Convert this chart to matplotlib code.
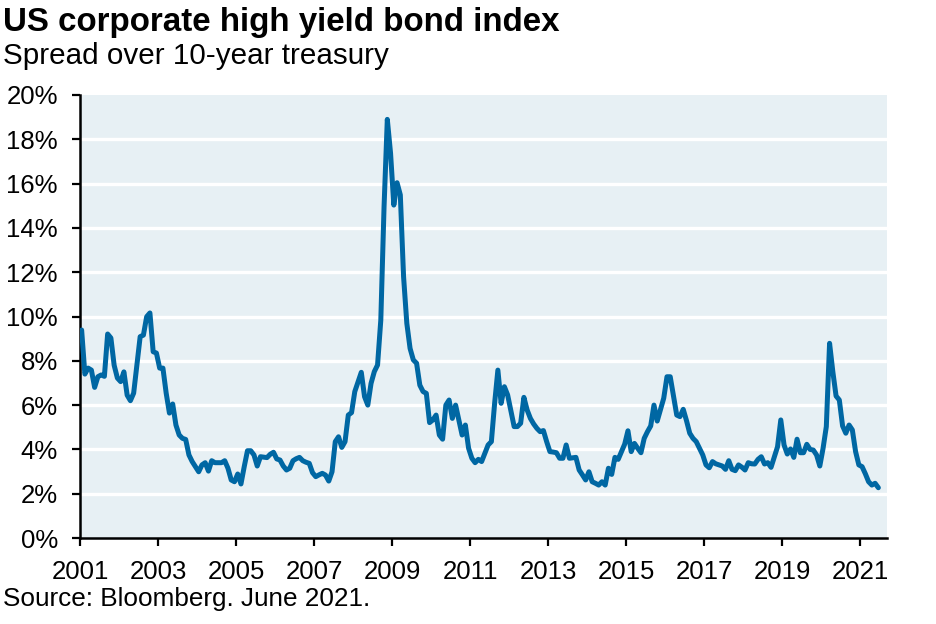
import numpy as np
import pandas as pd
import matplotlib
matplotlib.use("Agg")
import matplotlib.pyplot as plt

# Monthly spread values (%), Jan 2001 - Jun 2021
spread_by_year = {
    2001: [9.39, 7.4, 7.67, 7.58, 6.8, 7.28, 7.36, 7.3, 9.21, 9.03, 7.8, 7.22],
    2002: [7.06, 7.5, 6.45, 6.2, 6.54, 7.8, 9.09, 9.16, 9.99, 10.16, 8.41, 8.35],
    2003: [7.67, 7.67, 6.54, 5.64, 6.05, 5.1, 4.65, 4.5, 4.45, 3.75, 3.45, 3.22],
    2004: [2.99, 3.3, 3.4, 3.02, 3.49, 3.4, 3.4, 3.4, 3.49, 3.15, 2.62, 2.54],
    2005: [2.89, 2.44, 3.22, 3.94, 3.94, 3.75, 3.25, 3.67, 3.65, 3.63, 3.78, 3.87],
    2006: [3.57, 3.52, 3.25, 3.07, 3.15, 3.49, 3.58, 3.64, 3.49, 3.42, 3.37, 2.95],
    2007: [2.77, 2.85, 2.92, 2.84, 2.57, 2.99, 4.35, 4.57, 4.09, 4.35, 5.55, 5.66],
    2008: [6.61, 7.05, 7.48, 6.38, 6.0, 6.98, 7.51, 7.81, 9.84, 14.96, 18.9, 17.37],
    2009: [15.03, 16.04, 15.49, 11.8, 9.69, 8.56, 8.04, 7.89, 6.9, 6.61, 6.53, 5.21],
    2010: [5.33, 5.55, 4.65, 4.46, 6.0, 6.23, 5.4, 6.0, 5.33, 4.65, 5.1, 4.05],
    2011: [3.6, 3.4, 3.55, 3.45, 3.82, 4.2, 4.35, 6.08, 7.58, 6.08, 6.83, 6.46],
    2012: [5.75, 5.03, 5.03, 5.18, 6.35, 5.78, 5.4, 5.15, 4.95, 4.8, 4.85, 4.35],
    2013: [3.9, 3.88, 3.85, 3.6, 3.6, 4.2, 3.6, 3.62, 3.64, 3.07, 2.85, 2.62],
    2014: [2.99, 2.54, 2.47, 2.39, 2.54, 2.39, 3.15, 2.87, 3.64, 3.55, 3.9, 4.24],
    2015: [4.84, 3.9, 4.27, 4.05, 3.85, 4.5, 4.8, 5.06, 6.0, 5.28, 5.8, 6.31],
    2016: [7.28, 7.28, 6.4, 5.55, 5.48, 5.81, 5.3, 4.73, 4.5, 4.35, 4.05, 3.75],
    2017: [3.3, 3.17, 3.45, 3.35, 3.3, 3.25, 3.1, 3.49, 3.1, 3.04, 3.3, 3.2],
    2018: [3.07, 3.4, 3.35, 3.34, 3.55, 3.67, 3.34, 3.4, 3.19, 3.65, 4.12, 5.33],
    2019: [4.2, 3.79, 4.02, 3.64, 4.46, 3.85, 3.85, 4.23, 4.0, 3.97, 3.75, 3.25],
    2020: [4.05, 5.03, 8.79, 7.51, 6.41, 6.23, 5.06, 4.73, 5.1, 4.88, 3.9, 3.3],
    2021: [3.22, 2.9, 2.54, 2.39, 2.47, 2.27],
}

year_ticks = list(range(2001, 2022, 2))
y_ticks = list(range(0, 21, 2))

title = "US corporate high yield bond index"
subtitle = "Spread over 10-year treasury"
source = "Source: Bloomberg. June 2021."

values = np.concatenate([spread_by_year[y] for y in sorted(spread_by_year)])
months = pd.date_range("2001-01-01", periods=len(values), freq="MS")
# decimal year, plotted at mid-month
xpos = months.year + (months.month - 1 + 0.5) / 12.0

plt.rcParams["font.family"] = ["Liberation Sans", "DejaVu Sans"]

fig = plt.figure(figsize=(9.36, 6.24), dpi=100)
ax = fig.add_axes([80 / 936, 1 - 538 / 624, (887 - 80) / 936, (538 - 95) / 624])

bg = "#e7f0f4"
line_color = "#0067a3"
ax.set_facecolor(bg)

for yv in y_ticks[1:-1]:
    ax.axhline(yv, color="white", lw=2.4, zorder=1)

ax.plot(xpos, values, color=line_color, lw=3.6, zorder=3,
        solid_joinstyle="round", solid_capstyle="round")

ax.set_xlim(2001, 2021.68)
ax.set_ylim(0, 20)
ax.set_xticks(year_ticks)
ax.set_xticklabels([str(y) for y in year_ticks])
ax.set_yticks(y_ticks)
ax.set_yticklabels([f"{v}%" for v in y_ticks])

for side in ["top", "right"]:
    ax.spines[side].set_visible(False)
for side in ["left", "bottom"]:
    ax.spines[side].set_color("black")
    ax.spines[side].set_linewidth(1.8)

ax.tick_params(axis="both", direction="out", length=6, width=1.6, colors="black",
               labelsize=18.5, labelcolor="black")
ax.tick_params(axis="y", pad=10)
ax.tick_params(axis="x", pad=10)

fig.text(3 / 936, 1 - 31 / 624, title, fontsize=23.9, fontweight="bold",
         ha="left", va="baseline", color="black")
fig.text(3 / 936, 1 - 64 / 624, subtitle, fontsize=21.3,
         ha="left", va="baseline", color="black")
fig.text(3 / 936, 1 - 606 / 624, source, fontsize=18.8,
         ha="left", va="baseline", color="black")

fig.savefig("out.png", dpi=100)
